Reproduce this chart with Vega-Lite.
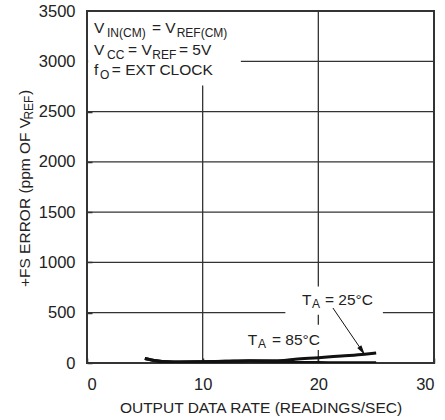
{
  "$schema": "https://vega.github.io/schema/vega-lite/v6.json",
  "autosize": {"type": "none"},
  "width": 347,
  "height": 352,
  "padding": {"left": 87, "top": 11, "right": 11, "bottom": 57},
  "background": "white",
  "config": {
    "view": {"stroke": "#333", "strokeWidth": 2},
    "font": "Liberation Sans, Arial, sans-serif",
    "axis": {
      "grid": false,
      "domain": false,
      "labelFont": "Liberation Sans, Arial, sans-serif",
      "labelFontSize": 16.5,
      "labelColor": "#222",
      "titleFont": "Liberation Sans, Arial, sans-serif",
      "titleFontSize": 15.5,
      "titleFontWeight": "normal",
      "titleColor": "#222",
      "tickColor": "#333",
      "tickWidth": 1.5,
      "tickSize": -5,
      "zindex": 1
    }
  },
  "datasets": {
    "curves": [
      {"x": 5, "y": 45, "s": "25"}, {"x": 6, "y": 22, "s": "25"}, {"x": 7, "y": 12, "s": "25"}, {"x": 8, "y": 10, "s": "25"},
      {"x": 10, "y": 12, "s": "25"}, {"x": 12, "y": 17, "s": "25"}, {"x": 14, "y": 22, "s": "25"}, {"x": 16, "y": 22, "s": "25"},
      {"x": 17, "y": 26, "s": "25"}, {"x": 18, "y": 38, "s": "25"}, {"x": 20, "y": 52, "s": "25"}, {"x": 22, "y": 70, "s": "25"},
      {"x": 24, "y": 88, "s": "25"}, {"x": 25, "y": 100, "s": "25"},
      {"x": 5, "y": 45, "s": "85"}, {"x": 6, "y": 22, "s": "85"}, {"x": 7, "y": 12, "s": "85"}, {"x": 8, "y": 10, "s": "85"},
      {"x": 10, "y": 12, "s": "85"}, {"x": 12, "y": 17, "s": "85"}, {"x": 14, "y": 20, "s": "85"}, {"x": 16, "y": 15, "s": "85"},
      {"x": 17, "y": 10, "s": "85"}, {"x": 18, "y": 6, "s": "85"}, {"x": 20, "y": 4, "s": "85"}, {"x": 22, "y": 3, "s": "85"},
      {"x": 25, "y": 3, "s": "85"}
    ],
    "vgrid": [{"x": 10}, {"x": 20}],
    "hgrid": [{"y": 500}, {"y": 1000}, {"y": 1500}, {"y": 2000}, {"y": 2500}, {"y": 3000}],
    "boxes": [
      {"x": 0.1, "x2": 13.3, "y": 2760, "y2": 3490},
      {"x": 17.15, "x2": 25.58, "y": 480, "y2": 760},
      {"x": 13.66, "x2": 20.3, "y": 130, "y2": 380}
    ],
    "arrow": [{"x": 21.26, "y": 547, "x2": 24.03, "y2": 80}],
    "arrowhead": [{"x": 24.03, "y": 80}],
    "mainText": [
      {"x": 0.6, "y": 3280, "t": "V"},
      {"x": 5.62, "y": 3280, "t": "= V"},
      {"x": 0.6, "y": 3062, "t": "V"},
      {"x": 3.55, "y": 3062, "t": "= V"},
      {"x": 7.95, "y": 3062, "t": "= 5V"},
      {"x": 0.6, "y": 2863, "t": "f"},
      {"x": 2.15, "y": 2863, "t": "= EXT CLOCK"},
      {"x": 18.58, "y": 577, "t": "T"},
      {"x": 20.57, "y": 577, "t": "= 25°C"},
      {"x": 13.9, "y": 179, "t": "T"},
      {"x": 15.99, "y": 179, "t": "= 85°C"}
    ],
    "subText": [
      {"x": 1.73, "y": 3280, "t": "IN(CM)"},
      {"x": 7.75, "y": 3280, "t": "REF(CM)"},
      {"x": 1.73, "y": 3062, "t": "CC"},
      {"x": 5.65, "y": 3062, "t": "REF"},
      {"x": 1.12, "y": 2863, "t": "O"},
      {"x": 19.45, "y": 577, "t": "A"},
      {"x": 14.78, "y": 179, "t": "A"}
    ],
    "yTitleMain": [
      {"x": -4.93, "y": 755, "t": "+FS ERROR (ppm OF V"},
      {"x": -4.93, "y": 2664, "t": ")"}
    ],
    "yTitleSub": [
      {"x": -4.93, "y": 2420, "t": "REF"}
    ]
  },
  "layer": [
    {
      "data": {"name": "vgrid"},
      "mark": {"type": "rule", "color": "#333", "strokeWidth": 1.3},
      "encoding": {
        "x": {"field": "x", "type": "quantitative", "scale": {"domain": [0, 30], "nice": false}}
      }
    },
    {
      "data": {"name": "hgrid"},
      "mark": {"type": "rule", "color": "#333", "strokeWidth": 1.3},
      "encoding": {
        "y": {"field": "y", "type": "quantitative", "scale": {"domain": [0, 3500], "nice": false}}
      }
    },
    {
      "data": {"name": "boxes"},
      "mark": {"type": "rect", "color": "white"},
      "encoding": {
        "x": {"field": "x", "type": "quantitative"},
        "x2": {"field": "x2"},
        "y": {"field": "y", "type": "quantitative"},
        "y2": {"field": "y2"}
      }
    },
    {
      "data": {"name": "curves"},
      "mark": {"type": "line", "color": "#111", "strokeWidth": 3, "interpolate": "monotone", "clip": true},
      "encoding": {
        "x": {"field": "x", "type": "quantitative", "scale": {"domain": [0, 30], "nice": false},
          "axis": {"orient": "bottom", "values": [0, 10, 20, 30], "format": "d", "title": "OUTPUT DATA RATE (READINGS/SEC)", "labelPadding": 18, "titlePadding": 8}},
        "y": {"field": "y", "type": "quantitative", "scale": {"domain": [0, 3500], "nice": false},
          "axis": {"orient": "left", "values": [0, 500, 1000, 1500, 2000, 2500, 3000, 3500], "format": "d", "title": null, "labelPadding": 17}},
        "detail": {"field": "s", "type": "nominal"}
      }
    },
    {
      "data": {"name": "arrow"},
      "mark": {"type": "rule", "color": "#111", "strokeWidth": 1},
      "encoding": {
        "x": {"field": "x", "type": "quantitative"},
        "y": {"field": "y", "type": "quantitative"},
        "x2": {"field": "x2"},
        "y2": {"field": "y2"}
      }
    },
    {
      "data": {"name": "arrowhead"},
      "mark": {"type": "point", "shape": "M0,0L0.5,2L-0.5,2Z", "size": 100, "filled": true, "color": "#111", "opacity": 1, "angle": 145.7},
      "encoding": {
        "x": {"field": "x", "type": "quantitative"},
        "y": {"field": "y", "type": "quantitative"}
      }
    },
    {
      "data": {"name": "mainText"},
      "mark": {"type": "text", "fontSize": 15.5, "align": "left", "baseline": "alphabetic", "color": "#222"},
      "encoding": {
        "x": {"field": "x", "type": "quantitative"},
        "y": {"field": "y", "type": "quantitative"},
        "text": {"field": "t"}
      }
    },
    {
      "data": {"name": "subText"},
      "mark": {"type": "text", "fontSize": 12, "align": "left", "baseline": "alphabetic", "dy": 3.5, "color": "#222"},
      "encoding": {
        "x": {"field": "x", "type": "quantitative"},
        "y": {"field": "y", "type": "quantitative"},
        "text": {"field": "t"}
      }
    },
    {
      "data": {"name": "yTitleMain"},
      "mark": {"type": "text", "fontSize": 15.5, "align": "left", "baseline": "alphabetic", "angle": 270, "color": "#222", "clip": false},
      "encoding": {
        "x": {"field": "x", "type": "quantitative"},
        "y": {"field": "y", "type": "quantitative"},
        "text": {"field": "t"}
      }
    },
    {
      "data": {"name": "yTitleSub"},
      "mark": {"type": "text", "fontSize": 12, "align": "left", "baseline": "alphabetic", "angle": 270, "dy": 3.5, "color": "#222", "clip": false},
      "encoding": {
        "x": {"field": "x", "type": "quantitative"},
        "y": {"field": "y", "type": "quantitative"},
        "text": {"field": "t"}
      }
    }
  ]
}
